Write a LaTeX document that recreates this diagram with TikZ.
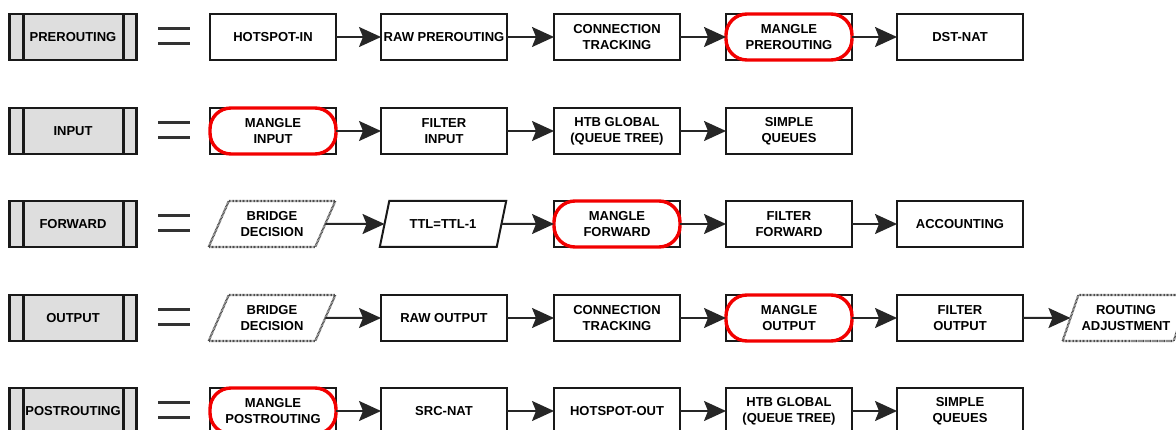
\documentclass[tikz,border=0pt]{standalone}
\usepackage{fontspec}
\setmainfont{Liberation Sans}
\usetikzlibrary{arrows.meta,shapes.geometric}

\begin{document}
\begin{tikzpicture}[
    x=1pt, y=-1pt,
    every node/.style={font=\bfseries\fontsize{13}{16}\selectfont, align=center, inner sep=1pt, outer sep=0pt},
    box/.style={rectangle, draw=black!90, line width=2.4pt, fill=white, minimum width=126pt, minimum height=46pt},
    chainbox/.style={box, fill=black!13, minimum width=127pt,
        path picture={\draw[line width=2.4pt, black!90]
            ([xshift=14pt]path picture bounding box.north west) -- ([xshift=14pt]path picture bounding box.south west)
            ([xshift=-13pt]path picture bounding box.north east) -- ([xshift=-13pt]path picture bounding box.south east);}},
    slanted/.style={trapezium, trapezium left angle=61, trapezium right angle=119, trapezium stretches=true,
        draw=black!90, line width=2pt, fill=white, minimum width=127pt, minimum height=46pt},
    dotbox/.style={slanted, draw=black!70, line width=2.2pt, dash pattern=on 0.8pt off 0.6pt},
    eqsign/.style={minimum width=32pt, minimum height=15pt, inner sep=0pt},
    eqline/.style={line width=2.5pt, black!80},
    mangleline/.style={draw=red!95!black, line width=3.4pt, rounded corners=21pt},
    flow/.style={-{Stealth[length=22pt,width=20pt,inset=4pt]}, line width=2pt, black!85}
]
\useasboundingbox (0,0) rectangle (1176,430);

% PREROUTING chain
\node[chainbox] (pre) at (73,37) {PREROUTING};
\node[eqsign] (preeq) at (174,36) {};
\node[box] (hsin) at (273,37) {HOTSPOT-IN};
\node[box] (rawpre) at (444,37) {RAW PREROUTING};
\node[box] (ctpre) at (617,37) {CONNECTION\\TRACKING};
\node[box] (manglepre) at (789,37) {MANGLE\\PREROUTING};
\node[box] (dnat) at (960,37) {DST-NAT};

% INPUT chain
\node[chainbox] (inp) at (73,131) {INPUT};
\node[eqsign] (inpeq) at (174,130) {};
\node[box] (mangleinp) at (273,131) {MANGLE\\INPUT};
\node[box] (filterinp) at (444,131) {FILTER\\INPUT};
\node[box] (htbinp) at (617,131) {HTB GLOBAL\\(QUEUE TREE)};
\node[box] (sqinp) at (789,131) {SIMPLE\\QUEUES};

% FORWARD chain
\node[chainbox] (fw) at (73,224) {FORWARD};
\node[eqsign] (fweq) at (174,223) {};
\node[dotbox] (bridgefw) at (272,224) {BRIDGE\\DECISION};
\node[slanted] (ttl) at (443,224) {TTL=TTL-1};
\node[box] (manglefw) at (617,224) {MANGLE\\FORWARD};
\node[box] (filterfw) at (789,224) {FILTER\\FORWARD};
\node[box] (acct) at (960,224) {ACCOUNTING};

% OUTPUT chain
\node[chainbox] (out) at (73,318) {OUTPUT};
\node[eqsign] (outeq) at (174,317) {};
\node[dotbox] (bridgeout) at (272,318) {BRIDGE\\DECISION};
\node[box] (rawout) at (444,318) {RAW OUTPUT};
\node[box] (ctout) at (617,318) {CONNECTION\\TRACKING};
\node[box] (mangleout) at (789,318) {MANGLE\\OUTPUT};
\node[box] (filterout) at (960,318) {FILTER\\OUTPUT};
\node[dotbox] (routeadj) at (1126,318) {ROUTING\\ADJUSTMENT};

% POSTROUTING chain
\node[chainbox] (post) at (73,411) {POSTROUTING};
\node[eqsign] (posteq) at (174,410) {};
\node[box] (manglepost) at (273,411) {MANGLE\\POSTROUTING};
\node[box] (snat) at (444,411) {SRC-NAT};
\node[box] (hsout) at (617,411) {HOTSPOT-OUT};
\node[box] (htbpost) at (789,411) {HTB GLOBAL\\(QUEUE TREE)};
\node[box] (sqpost) at (960,411) {SIMPLE\\QUEUES};

% equals signs
\foreach \e in {preeq,inpeq,fweq,outeq,posteq}
    \draw[eqline] (\e.north west) -- (\e.north east) (\e.south west) -- (\e.south east);

% mangle tables marked in red
\foreach \m in {manglepre,mangleinp,manglefw,mangleout,manglepost}
    \draw[mangleline] (\m.north west) rectangle (\m.south east);

% Arrows along each chain
\draw[flow] (hsin) -- (rawpre);
\draw[flow] (rawpre) -- (ctpre);
\draw[flow] (ctpre) -- (manglepre);
\draw[flow] (manglepre) -- (dnat);

\draw[flow] (mangleinp) -- (filterinp);
\draw[flow] (filterinp) -- (htbinp);
\draw[flow] (htbinp) -- (sqinp);

\draw[flow] (bridgefw) -- (ttl);
\draw[flow] (ttl) -- (manglefw);
\draw[flow] (manglefw) -- (filterfw);
\draw[flow] (filterfw) -- (acct);

\draw[flow] (bridgeout) -- (rawout);
\draw[flow] (rawout) -- (ctout);
\draw[flow] (ctout) -- (mangleout);
\draw[flow] (mangleout) -- (filterout);
\draw[flow] (filterout) -- (routeadj);

\draw[flow] (manglepost) -- (snat);
\draw[flow] (snat) -- (hsout);
\draw[flow] (hsout) -- (htbpost);
\draw[flow] (htbpost) -- (sqpost);

\end{tikzpicture}
\end{document}
